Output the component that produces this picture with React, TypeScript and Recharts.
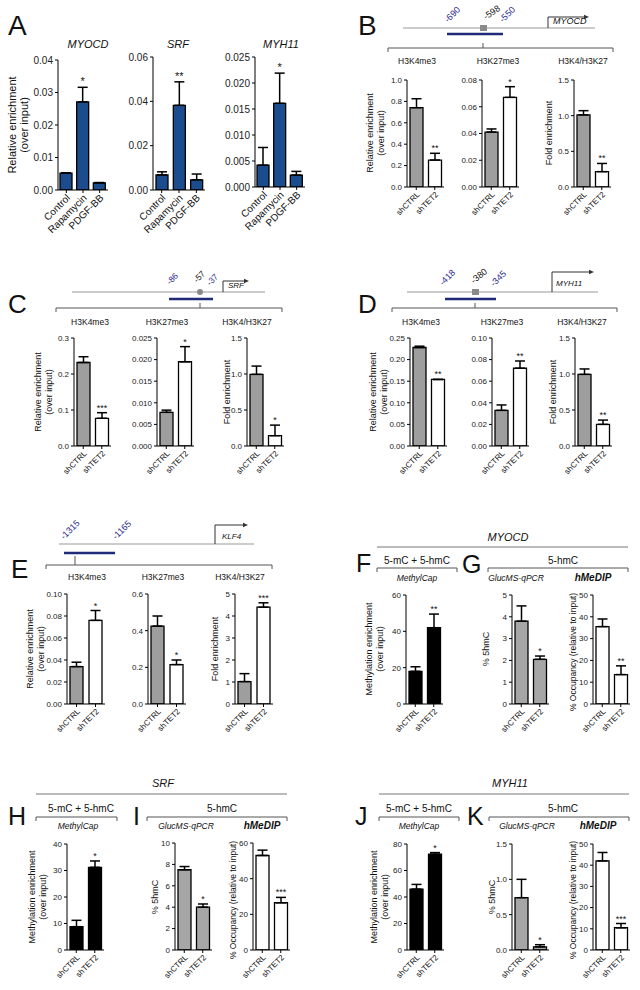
import React from 'react';
import { BarChart, Bar, XAxis, YAxis, ErrorBar, Cell, LabelList } from 'recharts';

const FONT = '"Liberation Sans", Arial, Helvetica, sans-serif';
const BLUE = '#1b4c8e';
const GRAY = '#9e9e9e';
const LGRAY = '#a6a6a6';
const WHITE = '#ffffff';
const BLACK = '#000000';
const NAVY = '#2a2a8c';
const NAVYBAR = '#1f2a78';

// ---------- categories ----------
const treatments = ['Control', 'Rapamycin', 'PDGF-BB'];
const groups = ['shCTRL', 'shTET2'];

// ---------- Panel A ----------
const aMyocdVals = [0.0052, 0.0271, 0.0022];
const aMyocdErr = [0.0053, 0.0316, 0.0023];
const aMyocdStars = ['', '*', ''];
const aMyocdTicks = [0, 0.01, 0.02, 0.03, 0.04];

const aSrfVals = [0.0068, 0.0382, 0.0046];
const aSrfErr = [0.0082, 0.0488, 0.0072];
const aSrfStars = ['', '**', ''];
const aSrfTicks = [0, 0.02, 0.04, 0.06];

const aMyh11Vals = [0.0042, 0.0161, 0.0023];
const aMyh11Err = [0.0076, 0.0219, 0.003];
const aMyh11Stars = ['', '*', ''];
const aMyh11Ticks = [0, 0.005, 0.01, 0.015, 0.02, 0.025];

// ---------- Panel B (MYOCD) ----------
const bK4Vals = [0.741, 0.252];
const bK4Err = [0.825, 0.315];
const bK4Stars = ['', '**'];
const bK4Ticks = [0, 0.2, 0.4, 0.6, 0.8, 1.0];

const bK27Vals = [0.0411, 0.067];
const bK27Err = [0.0434, 0.075];
const bK27Stars = ['', '*'];
const bK27Ticks = [0, 0.02, 0.04, 0.06, 0.08];

const bRatioVals = [1.01, 0.215];
const bRatioErr = [1.07, 0.33];
const bRatioStars = ['', '**'];
const bRatioTicks = [0, 0.5, 1.0, 1.5];

// ---------- Panel C (SRF) ----------
const cK4Vals = [0.232, 0.077];
const cK4Err = [0.248, 0.0925];
const cK4Stars = ['', '***'];
const cK4Ticks = [0, 0.1, 0.2, 0.3];

const cK27Vals = [0.0078, 0.0195];
const cK27Err = [0.0083, 0.023];
const cK27Stars = ['', '*'];
const cK27Ticks = [0, 0.005, 0.01, 0.015, 0.02, 0.025];

const cRatioVals = [0.995, 0.143];
const cRatioErr = [1.11, 0.29];
const cRatioStars = ['', '*'];
const cRatioTicks = [0, 0.5, 1.0, 1.5];

// ---------- Panel D (MYH11) ----------
const dK4Vals = [0.228, 0.154];
const dK4Err = [0.231, 0.154];
const dK4Stars = ['', '**'];
const dK4Ticks = [0, 0.05, 0.1, 0.15, 0.2, 0.25];

const dK27Vals = [0.033, 0.072];
const dK27Err = [0.038, 0.0787];
const dK27Stars = ['', '**'];
const dK27Ticks = [0, 0.02, 0.04, 0.06, 0.08, 0.1];

const dRatioVals = [0.995, 0.3];
const dRatioErr = [1.07, 0.36];
const dRatioStars = ['', '**'];
const dRatioTicks = [0, 0.5, 1.0, 1.5];

// ---------- Panel E (KLF4) ----------
const eK4Vals = [0.034, 0.076];
const eK4Err = [0.038, 0.085];
const eK4Stars = ['', '*'];
const eK4Ticks = [0, 0.02, 0.04, 0.06, 0.08, 0.1];

const eK27Vals = [0.425, 0.215];
const eK27Err = [0.48, 0.24];
const eK27Stars = ['', '*'];
const eK27Ticks = [0, 0.2, 0.4, 0.6];

const eRatioVals = [1.02, 4.4];
const eRatioErr = [1.38, 4.6];
const eRatioStars = ['', '***'];
const eRatioTicks = [0, 1, 2, 3, 4, 5];

// ---------- Panels F/G (MYOCD) ----------
const fVals = [18, 42];
const fErr = [20.5, 49.5];
const fStars = ['', '**'];
const fTicks = [0, 20, 40, 60];

const gGlucVals = [3.8, 2.05];
const gGlucErr = [4.5, 2.2];
const gGlucStars = ['', '*'];
const gGlucTicks = [0, 1, 2, 3, 4, 5];

const gMedipVals = [35.5, 13.5];
const gMedipErr = [39, 17.5];
const gMedipStars = ['', '**'];
const gMedipTicks = [0, 10, 20, 30, 40, 50];

// ---------- Panels H/I (SRF) ----------
const hVals = [8.8, 31.2];
const hErr = [11.2, 33.6];
const hStars = ['', '*'];
const hTicks = [0, 10, 20, 30, 40];

const iGlucVals = [7.5, 4.0];
const iGlucErr = [7.8, 4.3];
const iGlucStars = ['', '*'];
const iGlucTicks = [0, 2, 4, 6, 8, 10];

const iMedipVals = [53, 26.5];
const iMedipErr = [56, 29.5];
const iMedipStars = ['', '***'];
const iMedipTicks = [0, 20, 40, 60];

// ---------- Panels J/K (MYH11) ----------
const jVals = [46, 72.3];
const jErr = [49.5, 73.5];
const jStars = ['', '*'];
const jTicks = [0, 20, 40, 60, 80];

const kGlucVals = [0.74, 0.045];
const kGlucErr = [1.0, 0.075];
const kGlucStars = ['', '*'];
const kGlucTicks = [0, 0.5, 1.0, 1.5];

const kMedipVals = [42, 10.5];
const kMedipErr = [46, 12.5];
const kMedipStars = ['', '***'];
const kMedipTicks = [0, 10, 20, 30, 40, 50];

// ---------- chart component ----------
type ChartProps = {
  axisX: number;
  topY: number;
  plotH: number;
  plotW: number;
  cats: string[];
  vals: number[];
  errs: number[];
  stars: string[];
  ticks: number[];
  dec: number;
  fills: string[];
  tickFs?: number;
  catFs?: number;
  starFs?: number;
  barSize?: number;
};

const YW = 44;
const MT = 16;
const XH = 70;
const MR = 4;

function CatTick(props: any) {
  const { x, y, payload, fs } = props;
  return (
    <g transform={`translate(${x + 2},${y + 1}) rotate(-45)`}>
      <text x={0} y={0} dy={fs * 0.35} textAnchor="end" fontSize={fs} fontFamily={FONT} fill="#111">
        {payload.value}
      </text>
    </g>
  );
}

function MiniChart(p: ChartProps) {
  const data = p.cats.map((c, i) => {
    const up = Math.max(0, p.errs[i] - p.vals[i]);
    return { cat: c, v: p.vals[i], e: [0, up], up, star: p.stars[i] };
  });
  const w = YW + p.plotW + MR;
  const h = MT + p.plotH + XH;
  const tickFs = p.tickFs ?? 8;
  const catFs = p.catFs ?? 8;
  const starFs = p.starFs ?? 9;
  const bs = p.barSize ?? 13;
  const renderStar = (lp: any) => {
    const vb = lp.viewBox && lp.viewBox.width !== undefined ? lp.viewBox : lp;
    const { x, y, width, height } = vb;
    let idx = lp.index;
    if (idx === undefined || idx === null) idx = data.findIndex((d) => d.v === lp.value);
    const d = data[idx];
    if (!d || !d.star) return null;
    const pxPer = Math.abs(height) / d.v;
    const yTop = y - d.up * pxPer;
    return (
      <text x={x + width / 2} y={yTop - 2} textAnchor="middle" fontSize={starFs} fontFamily={FONT} fill="#111">
        {d.star}
      </text>
    );
  };
  return (
    <div style={{ position: 'absolute', left: p.axisX - YW, top: p.topY - MT }}>
      <BarChart width={w} height={h} data={data} margin={{ top: MT, right: MR, bottom: 0, left: 0 }}>
        <XAxis
          dataKey="cat"
          interval={0}
          height={XH}
          tickSize={3}
          tickLine={{ stroke: '#000' }}
          axisLine={{ stroke: '#000' }}
          tick={<CatTick fs={catFs} />}
        />
        <YAxis
          width={YW}
          domain={[p.ticks[0], p.ticks[p.ticks.length - 1]]}
          ticks={p.ticks}
          interval={0}
          allowDataOverflow
          tickSize={3}
          tickFormatter={(v: number) => v.toFixed(p.dec)}
          tick={{ fontSize: tickFs, fill: '#222', fontFamily: FONT }}
          axisLine={{ stroke: '#000' }}
          tickLine={{ stroke: '#000' }}
        />
        <Bar dataKey="v" barSize={bs} stroke="#000" strokeWidth={1.3} isAnimationActive={false}>
          {data.map((d, i) => (
            <Cell key={i} fill={p.fills[i]} stroke="#000" />
          ))}
          <ErrorBar dataKey="e" width={5} stroke="#000" strokeWidth={1.5} direction="y" isAnimationActive={false} />
          <LabelList dataKey="v" content={renderStar} />
        </Bar>
      </BarChart>
    </div>
  );
}

// ---------- annotation helpers ----------
function T(props: any) {
  const { x, y, children, fs = 8, anchor = 'middle', italic = false, bold = false, fill = '#111', rot = 0 } = props;
  return (
    <text
      x={x}
      y={y}
      fontSize={fs}
      textAnchor={anchor}
      fontStyle={italic ? 'italic' : 'normal'}
      fontWeight={bold ? 'bold' : 'normal'}
      fill={fill}
      fontFamily={FONT}
      transform={rot ? `rotate(${rot} ${x} ${y})` : undefined}
    >
      {children}
    </text>
  );
}

function YL(props: any) {
  const { x, y, lines, fs = 9, gap = 11 } = props;
  return (
    <g>
      {lines.map((l: string, i: number) => (
        <text
          key={i}
          transform={`translate(${x + i * gap},${y}) rotate(-90)`}
          textAnchor="middle"
          dominantBaseline="central"
          fontSize={fs}
          fontFamily={FONT}
          fill="#111"
        >
          {l}
        </text>
      ))}
    </g>
  );
}

function Bracket(props: any) {
  const { x1, x2, y, cx, ctop } = props;
  return (
    <g stroke="#555" strokeWidth={1} fill="none">
      <path d={`M${x1},${y + 4} L${x1},${y} L${x2},${y} L${x2},${y + 4}`} />
      {cx !== undefined && <line x1={cx} y1={y} x2={cx} y2={ctop} />}
    </g>
  );
}

function Promoter(props: any) {
  const { x, y0, y1, x2 } = props;
  return (
    <g>
      <polyline points={`${x},${y0} ${x},${y1} ${x2 - 3},${y1}`} fill="none" stroke="#333" strokeWidth={1} />
      <path d={`M${x2},${y1} L${x2 - 5},${y1 - 2.2} L${x2 - 5},${y1 + 2.2} Z`} fill="#333" />
    </g>
  );
}

const lbl = (a: string[]) => a;

export default function App() {
  const bl3 = [BLUE, BLUE, BLUE];
  const gw = [GRAY, WHITE];
  const bb = [BLACK, BLACK];
  const lg = [LGRAY, LGRAY];
  const ww = [WHITE, WHITE];
  return (
    <div style={{ position: 'absolute', left: 0, top: 0, width: 640, height: 990, background: '#fff', overflow: 'hidden' }}>
      {/* Panel A */}
      <MiniChart axisX={58} topY={60} plotH={130} plotW={50} cats={treatments} vals={aMyocdVals} errs={aMyocdErr} stars={aMyocdStars} ticks={aMyocdTicks} dec={2} fills={bl3} tickFs={10} catFs={10} starFs={11} barSize={12} />
      <MiniChart axisX={153} topY={57} plotH={133} plotW={52} cats={treatments} vals={aSrfVals} errs={aSrfErr} stars={aSrfStars} ticks={aSrfTicks} dec={2} fills={bl3} tickFs={10} catFs={10} starFs={11} barSize={12} />
      <MiniChart axisX={255} topY={57} plotH={130} plotW={50} cats={treatments} vals={aMyh11Vals} errs={aMyh11Err} stars={aMyh11Stars} ticks={aMyh11Ticks} dec={3} fills={bl3} tickFs={10} catFs={10} starFs={11} barSize={12} />

      {/* Panel B */}
      <MiniChart axisX={407} topY={80} plotH={107} plotW={37} cats={groups} vals={bK4Vals} errs={bK4Err} stars={bK4Stars} ticks={bK4Ticks} dec={1} fills={gw} />
      <MiniChart axisX={482} topY={80} plotH={107} plotW={37} cats={groups} vals={bK27Vals} errs={bK27Err} stars={bK27Stars} ticks={bK27Ticks} dec={2} fills={gw} />
      <MiniChart axisX={574} topY={80} plotH={107} plotW={37} cats={groups} vals={bRatioVals} errs={bRatioErr} stars={bRatioStars} ticks={bRatioTicks} dec={1} fills={gw} />

      {/* Panel C */}
      <MiniChart axisX={74} topY={338} plotH={108} plotW={37} cats={groups} vals={cK4Vals} errs={cK4Err} stars={cK4Stars} ticks={cK4Ticks} dec={1} fills={gw} />
      <MiniChart axisX={157} topY={338} plotH={108} plotW={37} cats={groups} vals={cK27Vals} errs={cK27Err} stars={cK27Stars} ticks={cK27Ticks} dec={3} fills={gw} />
      <MiniChart axisX={247} topY={338} plotH={108} plotW={37} cats={groups} vals={cRatioVals} errs={cRatioErr} stars={cRatioStars} ticks={cRatioTicks} dec={1} fills={gw} />

      {/* Panel D */}
      <MiniChart axisX={410} topY={338} plotH={108} plotW={37} cats={groups} vals={dK4Vals} errs={dK4Err} stars={dK4Stars} ticks={dK4Ticks} dec={2} fills={gw} />
      <MiniChart axisX={492} topY={338} plotH={108} plotW={37} cats={groups} vals={dK27Vals} errs={dK27Err} stars={dK27Stars} ticks={dK27Ticks} dec={2} fills={gw} />
      <MiniChart axisX={575} topY={338} plotH={108} plotW={37} cats={groups} vals={dRatioVals} errs={dRatioErr} stars={dRatioStars} ticks={dRatioTicks} dec={1} fills={gw} />

      {/* Panel E */}
      <MiniChart axisX={67} topY={594} plotH={110} plotW={38} cats={groups} vals={eK4Vals} errs={eK4Err} stars={eK4Stars} ticks={eK4Ticks} dec={2} fills={gw} />
      <MiniChart axisX={148} topY={594} plotH={110} plotW={38} cats={groups} vals={eK27Vals} errs={eK27Err} stars={eK27Stars} ticks={eK27Ticks} dec={1} fills={gw} />
      <MiniChart axisX={235} topY={594} plotH={110} plotW={38} cats={groups} vals={eRatioVals} errs={eRatioErr} stars={eRatioStars} ticks={eRatioTicks} dec={0} fills={gw} />

      {/* Panel F/G */}
      <MiniChart axisX={406} topY={595} plotH={109} plotW={37} cats={groups} vals={fVals} errs={fErr} stars={fStars} ticks={fTicks} dec={0} fills={bb} />
      <MiniChart axisX={512} topY={595} plotH={109} plotW={37} cats={groups} vals={gGlucVals} errs={gGlucErr} stars={gGlucStars} ticks={gGlucTicks} dec={0} fills={lg} />
      <MiniChart axisX={593} topY={595} plotH={109} plotW={37} cats={groups} vals={gMedipVals} errs={gMedipErr} stars={gMedipStars} ticks={gMedipTicks} dec={0} fills={ww} />

      {/* Panel H/I */}
      <MiniChart axisX={67} topY={844} plotH={106} plotW={37} cats={groups} vals={hVals} errs={hErr} stars={hStars} ticks={hTicks} dec={0} fills={bb} />
      <MiniChart axisX={175} topY={843} plotH={107} plotW={37} cats={groups} vals={iGlucVals} errs={iGlucErr} stars={iGlucStars} ticks={iGlucTicks} dec={0} fills={lg} />
      <MiniChart axisX={253} topY={843} plotH={107} plotW={37} cats={groups} vals={iMedipVals} errs={iMedipErr} stars={iMedipStars} ticks={iMedipTicks} dec={0} fills={ww} />

      {/* Panel J/K */}
      <MiniChart axisX={407} topY={844} plotH={106} plotW={37} cats={groups} vals={jVals} errs={jErr} stars={jStars} ticks={jTicks} dec={0} fills={bb} />
      <MiniChart axisX={512} topY={844} plotH={106} plotW={37} cats={groups} vals={kGlucVals} errs={kGlucErr} stars={kGlucStars} ticks={kGlucTicks} dec={1} fills={lg} />
      <MiniChart axisX={593} topY={844} plotH={106} plotW={37} cats={groups} vals={kMedipVals} errs={kMedipErr} stars={kMedipStars} ticks={kMedipTicks} dec={0} fills={ww} />

      {/* Annotations */}
      <svg width={640} height={990} style={{ position: 'absolute', left: 0, top: 0, pointerEvents: 'none' }}>
        {/* Panel letters */}
        <T x={8} y={35} fs={28} anchor="start">A</T>
        <T x={358} y={35} fs={28} anchor="start">B</T>
        <T x={8} y={313} fs={26} anchor="start">C</T>
        <T x={358} y={313} fs={26} anchor="start">D</T>
        <T x={11} y={578} fs={26} anchor="start">E</T>
        <T x={356} y={572} fs={25} anchor="start">F</T>
        <T x={462} y={573} fs={25} anchor="start">G</T>
        <T x={8} y={825} fs={25} anchor="start">H</T>
        <T x={133} y={825} fs={25} anchor="start">I</T>
        <T x={355} y={825} fs={25} anchor="start">J</T>
        <T x={467} y={825} fs={25} anchor="start">K</T>

        {/* Panel A titles and y label */}
        <T x={88} y={48} fs={11} italic>MYOCD</T>
        <T x={178} y={48} fs={11} italic>SRF</T>
        <T x={281} y={48} fs={11} italic>MYH11</T>
        <YL x={12} y={125} fs={11} gap={12} lines={lbl(['Relative enrichment', '(over input)'])} />

        {/* Panel B gene diagram */}
        <line x1={403} y1={28} x2={595} y2={28} stroke="#999" strokeWidth={1.2} />
        <rect x={480} y={25} width={7} height={6} fill="#8a8a8a" />
        <line x1={447} y1={34} x2={503} y2={34} stroke={NAVYBAR} strokeWidth={2.5} />
        <Promoter x={548} y0={28} y1={17} x2={589} />
        <T x={553} y={24} fs={9} italic anchor="start">MYOCD</T>
        <T x={448} y={23} fs={9} anchor="start" fill={NAVY} rot={-45}>-690</T>
        <T x={486} y={20} fs={9} anchor="start" rot={-35}>-598</T>
        <T x={503} y={23} fs={9} anchor="start" fill={NAVY} rot={-45}>-550</T>
        <Bracket x1={388} x2={613} y={48} cx={483} ctop={43} />
        <T x={417} y={64} fs={8.5}>H3K4me3</T>
        <T x={498} y={64} fs={8.5}>H3K27me3</T>
        <T x={583} y={64} fs={8.5}>H3K4/H3K27</T>
        <YL x={370} y={133} lines={lbl(['Relative enrichment', '(over input)'])} />
        <YL x={549} y={133} lines={lbl(['Fold enrichment'])} />

        {/* Panel C gene diagram */}
        <line x1={72} y1={292} x2={265} y2={292} stroke="#999" strokeWidth={1.2} />
        <circle cx={200} cy={292} r={3} fill="#8a8a8a" />
        <line x1={169} y1={299} x2={213} y2={299} stroke={NAVYBAR} strokeWidth={2.5} />
        <Promoter x={223} y0={292} y1={281} x2={249} />
        <T x={228} y={288} fs={8} italic anchor="start">SRF</T>
        <T x={170} y={285} fs={8.5} anchor="start" fill={NAVY} rot={-45}>-86</T>
        <T x={197} y={283} fs={8.5} anchor="start" rot={-45}>-57</T>
        <T x={210} y={286} fs={8.5} anchor="start" fill={NAVY} rot={-45}>-37</T>
        <Bracket x1={56} x2={282} y={308} cx={200} ctop={303} />
        <T x={90} y={325} fs={8.5}>H3K4me3</T>
        <T x={167} y={325} fs={8.5}>H3K27me3</T>
        <T x={247} y={325} fs={8.5}>H3K4/H3K27</T>
        <YL x={38} y={392} lines={lbl(['Relative enrichment', '(over input)'])} />
        <YL x={227} y={392} lines={lbl(['Fold enrichment'])} />

        {/* Panel D gene diagram */}
        <line x1={407} y1={292} x2={598} y2={292} stroke="#999" strokeWidth={1.2} />
        <rect x={472} y={289} width={7} height={6} fill="#8a8a8a" />
        <line x1={445} y1={299} x2={496} y2={299} stroke={NAVYBAR} strokeWidth={2.5} />
        <Promoter x={552} y0={292} y1={272} x2={594} />
        <T x={556} y={286} fs={8} italic anchor="start">MYH11</T>
        <T x={443} y={286} fs={9} anchor="start" fill={NAVY} rot={-45}>-418</T>
        <T x={474} y={284} fs={9} anchor="start" rot={-40}>-380</T>
        <T x={494} y={287} fs={9} anchor="start" fill={NAVY} rot={-45}>-345</T>
        <Bracket x1={392} x2={617} y={308} cx={475} ctop={303} />
        <T x={421} y={325} fs={8.5}>H3K4me3</T>
        <T x={502} y={325} fs={8.5}>H3K27me3</T>
        <T x={582} y={325} fs={8.5}>H3K4/H3K27</T>
        <YL x={373} y={392} lines={lbl(['Relative enrichment', '(over input)'])} />
        <YL x={553} y={392} lines={lbl(['Fold enrichment'])} />

        {/* Panel E gene diagram */}
        <line x1={59} y1={544} x2={254} y2={544} stroke="#999" strokeWidth={1.2} />
        <line x1={64} y1={553} x2={115} y2={553} stroke={NAVYBAR} strokeWidth={2.5} />
        <Promoter x={215} y0={544} y1={525} x2={248} />
        <T x={222} y={539} fs={8} italic anchor="start">KLF4</T>
        <T x={64} y={540} fs={9} anchor="start" fill={NAVY} rot={-45}>-1315</T>
        <T x={116} y={540} fs={9} anchor="start" fill={NAVY} rot={-45}>-1165</T>
        <Bracket x1={46} x2={272} y={565} cx={75} ctop={556} />
        <T x={87} y={580} fs={8.5}>H3K4me3</T>
        <T x={163} y={580} fs={8.5}>H3K27me3</T>
        <T x={240} y={580} fs={8.5}>H3K4/H3K27</T>
        <YL x={30} y={649} lines={lbl(['Relative enrichment', '(over input)'])} />
        <YL x={215} y={649} lines={lbl(['Fold enrichment'])} />

        {/* Panels F/G headers */}
        <T x={508} y={541} fs={11} italic>MYOCD</T>
        <line x1={377} y1={547} x2={628} y2={547} stroke="#777" strokeWidth={1} />
        <T x={417} y={564} fs={10}>5-mC + 5-hmC</T>
        <Bracket x1={377} x2={457} y={568} />
        <T x={417} y={581} fs={8.5} italic>MethylCap</T>
        <T x={563} y={564} fs={10}>5-hmC</T>
        <Bracket x1={488} x2={628} y={568} />
        <T x={516} y={581} fs={8.5} italic>GlucMS-qPCR</T>
        <T x={593} y={581} fs={10} italic bold>hMeDIP</T>
        <YL x={369} y={649} lines={lbl(['Methylation enrichment', '(over input)'])} />
        <YL x={486} y={649} lines={lbl(['% 5hmC'])} />
        <YL x={573} y={652} fs={8.5} lines={lbl(['% Occupancy (relative to input)'])} />

        {/* Panels H/I headers */}
        <T x={163} y={787} fs={11} italic>SRF</T>
        <line x1={36} y1={794} x2={287} y2={794} stroke="#777" strokeWidth={1} />
        <T x={81} y={812} fs={10}>5-mC + 5-hmC</T>
        <Bracket x1={36} x2={117} y={817} />
        <T x={78} y={829} fs={8.5} italic>MethylCap</T>
        <T x={222} y={812} fs={10}>5-hmC</T>
        <Bracket x1={147} x2={287} y={817} />
        <T x={186} y={829} fs={8.5} italic>GlucMS-qPCR</T>
        <T x={262} y={829} fs={10} italic bold>hMeDIP</T>
        <YL x={32} y={897} lines={lbl(['Methylation enrichment', '(over input)'])} />
        <YL x={155} y={897} lines={lbl(['% 5hmC'])} />
        <YL x={233} y={900} fs={8.5} lines={lbl(['% Occupancy (relative to input)'])} />

        {/* Panels J/K headers */}
        <T x={510} y={787} fs={11} italic>MYH11</T>
        <line x1={379} y1={794} x2={629} y2={794} stroke="#777" strokeWidth={1} />
        <T x={419} y={812} fs={10}>5-mC + 5-hmC</T>
        <Bracket x1={379} x2={459} y={817} />
        <T x={419} y={829} fs={8.5} italic>MethylCap</T>
        <T x={563} y={812} fs={10}>5-hmC</T>
        <Bracket x1={489} x2={629} y={817} />
        <T x={527} y={829} fs={8.5} italic>GlucMS-qPCR</T>
        <T x={598} y={829} fs={10} italic bold>hMeDIP</T>
        <YL x={374} y={897} lines={lbl(['Methylation enrichment', '(over input)'])} />
        <YL x={492} y={897} lines={lbl(['% 5hmC'])} />
        <YL x={573} y={900} fs={8.5} lines={lbl(['% Occupancy (relative to input)'])} />
      </svg>
    </div>
  );
}
